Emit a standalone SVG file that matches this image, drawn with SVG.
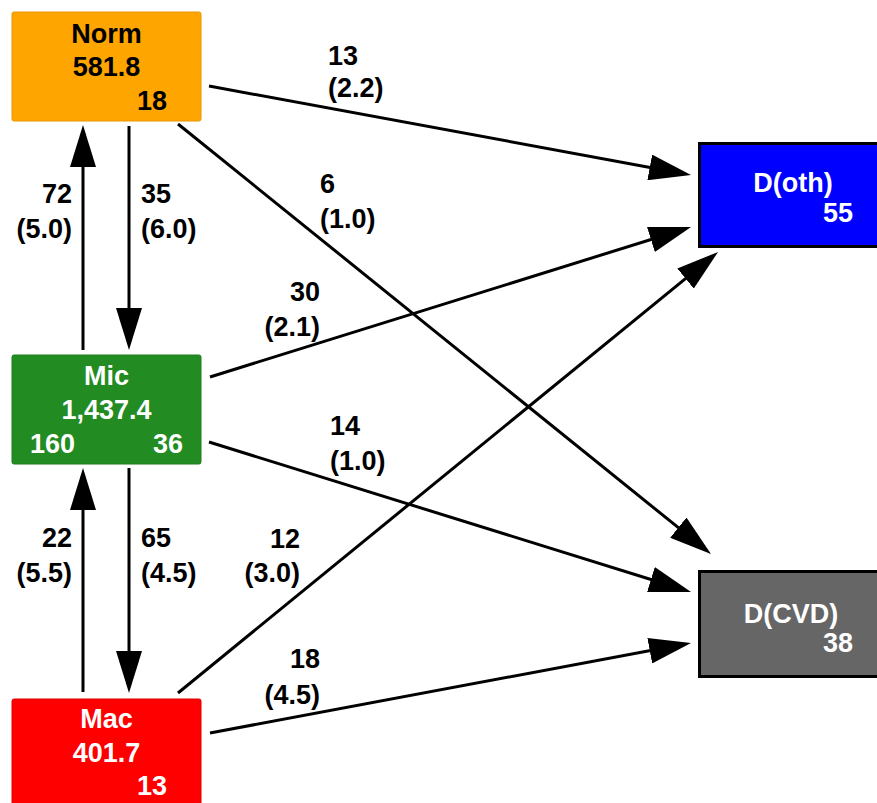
<svg xmlns="http://www.w3.org/2000/svg" width="877" height="803" viewBox="0 0 877 803">
<style>
text{font-family:"Liberation Sans",Arial,sans-serif;font-weight:bold;font-size:27px}
.c{text-anchor:middle}.e{text-anchor:end}.s{text-anchor:start}
.w{fill:#fff}.k{fill:#000}
.edge{stroke:#000;stroke-width:3;fill:none;marker-end:url(#ah)}
</style>
<defs>
<marker id="ah" markerUnits="userSpaceOnUse" viewBox="0 0 42 26" refX="32" refY="13" markerWidth="42" markerHeight="26" orient="auto">
<path d="M0,0 L42,13 L0,26 z" fill="#000"/>
</marker>
</defs>
<rect width="877" height="803" fill="#fff"/>
<g id="connectors">
<line class="edge" x1="83" y1="350" x2="83" y2="135"/>
<line class="edge" x1="129" y1="126" x2="129" y2="340"/>
<line class="edge" x1="83" y1="692" x2="83" y2="478"/>
<line class="edge" x1="129" y1="468" x2="129" y2="683"/>
<line class="edge" x1="209" y1="86" x2="681.2" y2="173.2"/>
<line class="edge" x1="178" y1="124" x2="703.2" y2="547.7"/>
<line class="edge" x1="210" y1="377" x2="681.5" y2="230"/>
<line class="edge" x1="209" y1="442" x2="681.5" y2="589"/>
<line class="edge" x1="178" y1="693" x2="710.3" y2="258.3"/>
<line class="edge" x1="210" y1="733" x2="681.2" y2="644.8"/>
<g id="labels">
<text class="e" x="72" y="203">72</text><text class="e" x="72" y="238">(5.0)</text>
<text class="s" x="141" y="203">35</text><text class="s" x="141" y="238">(6.0)</text>
<text class="e" x="72" y="547">22</text><text class="e" x="72" y="582">(5.5)</text>
<text class="s" x="141" y="547">65</text><text class="s" x="141" y="582">(4.5)</text>
<text class="s" x="328" y="65">13</text><text class="s" x="328" y="97">(2.2)</text>
<text class="s" x="320" y="193">6</text><text class="s" x="320" y="228">(1.0)</text>
<text class="e" x="320" y="301">30</text><text class="e" x="320" y="336">(2.1)</text>
<text class="s" x="330" y="435">14</text><text class="s" x="330" y="470">(1.0)</text>
<text class="e" x="300" y="548">12</text><text class="e" x="300" y="582">(3.0)</text>
<text class="e" x="320" y="668">18</text><text class="e" x="320" y="704">(4.5)</text>
</g>
</g>
<g id="Norm">
<rect x="12" y="12" width="189" height="109" rx="2" fill="#FFA500" stroke="#E89600" stroke-width="1"/>
<text class="c k" x="106.5" y="43">Norm</text>
<text class="c k" x="106.5" y="76">581.8</text>
<text class="e k" x="167" y="110">18</text>
</g>
<g id="Mic">
<rect x="12" y="355" width="189" height="109" rx="2" fill="#228B22" stroke="#1E7D1E" stroke-width="1"/>
<text class="c w" x="106.5" y="385">Mic</text>
<text class="c w" x="106.5" y="419">1,437.4</text>
<text class="s w" x="30" y="453">160</text>
<text class="e w" x="183" y="453">36</text>
</g>
<g id="Mac">
<rect x="12" y="699" width="189" height="112" rx="2" fill="#FF0000" stroke="#E00000" stroke-width="1"/>
<text class="c w" x="106.5" y="728">Mac</text>
<text class="c w" x="106.5" y="762">401.7</text>
<text class="e w" x="167" y="795">13</text>
</g>
<g id="Doth">
<rect x="699.5" y="143.5" width="190" height="103" fill="#0000FF" stroke="#000" stroke-width="3"/>
<text class="c w" x="793" y="192">D(oth)</text>
<text class="e w" x="853" y="222">55</text>
</g>
<g id="DCVD">
<rect x="699.5" y="571.5" width="190" height="105" fill="#666666" stroke="#000" stroke-width="3"/>
<text class="c w" x="791" y="623">D(CVD)</text>
<text class="e w" x="853" y="652">38</text>
</g>
</svg>
